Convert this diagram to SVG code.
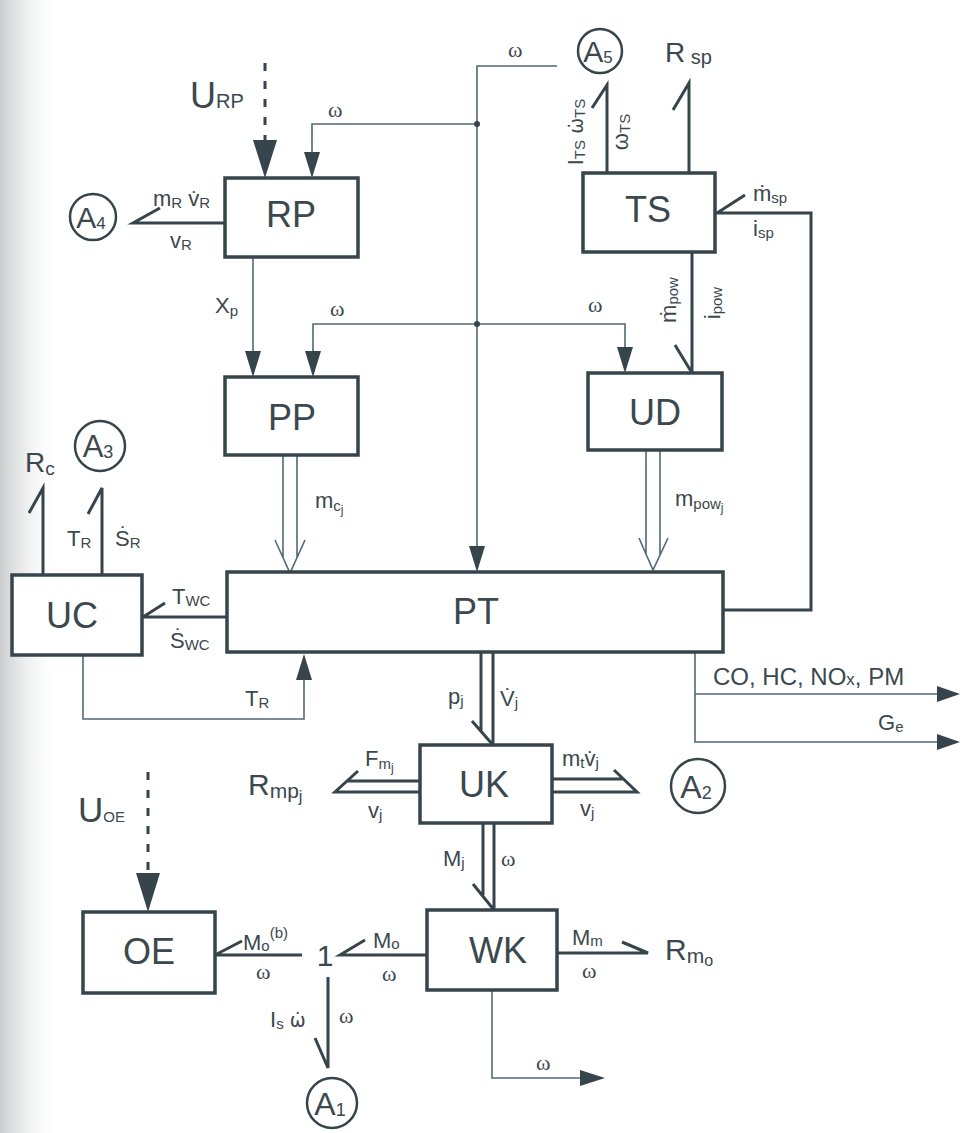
<svg xmlns="http://www.w3.org/2000/svg" width="961" height="1133" viewBox="0 0 961 1133">
<defs>
<linearGradient id="scan" x1="0" y1="0" x2="1" y2="0">
<stop offset="0" stop-color="#c9cccd"/>
<stop offset="1" stop-color="#ffffff" stop-opacity="0"/>
</linearGradient>
<style>
.box{fill:#fff;stroke:#36444b;stroke-width:3.5}
.thick{fill:none;stroke:#36444b;stroke-width:3}
.thin{fill:none;stroke:#4e6a77;stroke-width:1.6}
.dash{fill:none;stroke:#36444b;stroke-width:3;stroke-dasharray:8 10}
.ah{fill:#36444b}
.circ{fill:#fff;stroke:#36444b;stroke-width:2.5}
text{font-family:"Liberation Sans",Arial,sans-serif;fill:#3b484e}
.nl{font-size:36px}
.lb{font-size:22px}
.sb{font-size:15px}
.w{font-size:22px;font-family:"Liberation Serif",serif}
.wd{font-family:"DejaVu Sans",sans-serif;font-size:19px}
</style>
</defs>
<rect width="961" height="1133" fill="#fff"/>
<rect width="60" height="1133" fill="url(#scan)"/>

<g id="connectors">
<path class="dash" d="M265,63 V140"/>
<polygon class="ah" points="253,140 277,140 265,178"/>
<path class="thin" d="M557,66 H477 V560"/>
<polygon class="ah" points="469,546 485,546 477,572"/>
<path class="thin" d="M477,124 H312 V165"/>
<polygon class="ah" points="304,152 320,152 312,178"/>
<path class="thin" d="M313,365 V324 H625 V360"/>
<polygon class="ah" points="305,351 321,351 313,377"/>
<polygon class="ah" points="617,347 633,347 625,373"/>
<circle cx="477" cy="124" r="3" class="ah"/>
<circle cx="477" cy="324" r="3" class="ah"/>
<path class="thin" d="M253,257 V365"/>
<polygon class="ah" points="245,351 261,351 253,377"/>
<path class="thick" d="M225,223 H133 L160,208"/>
<path class="thick" d="M607,173 V85 L592,108"/>
<path class="thick" d="M689,173 V83 L673,110"/>
<path class="thick" d="M723,610 H811 V213 H717 L745,195"/>
<path class="thick" d="M692,252 V373 L675,345"/>
<path class="thin" d="M283,455 V558 M297,455 V558 M275,540 L290,573 L305,540"/>
<path class="thin" d="M646,450 V554 M660,450 V555 M639,538 L653,570 L668,538"/>
<path class="thick" d="M481,652 V732 M493,652 V745 L472,721"/>
<path class="thick" d="M483,823 V895 M494,823 V910 L473,884"/>
<path class="thick" d="M420,781 H347 M420,792 H335 L358,771"/>
<path class="thick" d="M552,779 H623 M552,792 H637 L614,770"/>
<path class="thick" d="M228,617 H143 L165,603"/>
<path class="thick" d="M43,575 V488 L29,513"/>
<path class="thick" d="M102,575 V488 L88,514"/>
<path class="thin" d="M83,655 V719 H304 V665"/>
<polygon class="ah" points="296,680 312,680 304,654"/>
<path class="thin" d="M695,652 V742 H940 M695,694 H940"/>
<polygon class="ah" points="937,686 960,694 937,702"/>
<polygon class="ah" points="937,734 960,742 937,750"/>
<path class="thick" d="M557,953 H648 L622,942"/>
<path class="thick" d="M427,955 H340 L365,940"/>
<path class="thick" d="M302,955 H215 L242,941"/>
<path class="thick" d="M328,977 V1068 L315,1038"/>
<path class="thin" d="M492,990 V1078 H585"/>
<polygon class="ah" points="580,1070 605,1078 580,1086"/>
<path class="dash" d="M148,772 V873"/>
<polygon class="ah" points="136,873 160,873 148,912"/>
</g>

<g id="RP"><rect class="box" x="225" y="178" width="133" height="79"/><text class="nl" x="291" y="227" text-anchor="middle">RP</text></g>
<g id="TS"><rect class="box" x="583" y="173" width="132" height="79"/><text class="nl" x="648" y="222" text-anchor="middle">TS</text></g>
<g id="PP"><rect class="box" x="225" y="377" width="133" height="78"/><text class="nl" x="292" y="430" text-anchor="middle">PP</text></g>
<g id="UD"><rect class="box" x="588" y="373" width="134" height="77"/><text class="nl" x="655" y="425" text-anchor="middle">UD</text></g>
<g id="UC"><rect class="box" x="12" y="575" width="130" height="80"/><text class="nl" x="72" y="628" text-anchor="middle">UC</text></g>
<g id="PT"><rect class="box" x="227" y="572" width="496" height="80"/><text class="nl" x="476" y="624" text-anchor="middle">PT</text></g>
<g id="UK"><rect class="box" x="420" y="745" width="132" height="78"/><text class="nl" x="484" y="797" text-anchor="middle">UK</text></g>
<g id="WK"><rect class="box" x="427" y="910" width="130" height="80"/><text class="nl" x="498" y="963" text-anchor="middle">WK</text></g>
<g id="OE"><rect class="box" x="83" y="912" width="132" height="81"/><text class="nl" x="149" y="964" text-anchor="middle">OE</text></g>

<g id="A5"><circle class="circ" cx="600" cy="51" r="22"/><text x="598" y="62" font-size="30" text-anchor="middle">A<tspan font-size="17" dy="1">5</tspan></text></g>
<g id="A4"><circle class="circ" cx="93" cy="217" r="23"/><text x="91" y="228" font-size="30" text-anchor="middle">A<tspan font-size="17" dy="1">4</tspan></text></g>
<g id="A3"><circle class="circ" cx="100" cy="446" r="25"/><text x="98" y="457" font-size="31" text-anchor="middle">A<tspan font-size="18" dy="1">3</tspan></text></g>
<g id="A2"><circle class="circ" cx="698" cy="786" r="27"/><text x="696" y="798" font-size="32" text-anchor="middle">A<tspan font-size="18" dy="1">2</tspan></text></g>
<g id="A1"><circle class="circ" cx="332" cy="1103" r="25"/><text x="330" y="1115" font-size="32" text-anchor="middle">A<tspan font-size="18" dy="1">1</tspan></text></g>

<g id="labels">
<text x="190" y="108" font-size="36">U<tspan font-size="20">RP</tspan></text>
<text class="w" x="328" y="117">ω</text>
<text class="w" x="508" y="57">ω</text>
<text class="lb" x="153" y="206">m<tspan class="sb" dy="2">R</tspan><tspan dy="-2"> v̇</tspan><tspan class="sb" dy="2">R</tspan></text>
<text class="lb" x="170" y="248">v<tspan class="sb" dy="2">R</tspan></text>
<text x="665" y="62" font-size="28">R<tspan font-size="20" dy="2"> sp</tspan></text>
<text class="lb" transform="translate(583,132) rotate(-90)" text-anchor="middle">I<tspan class="sb" dy="2">TS</tspan><tspan dy="-2"> </tspan><tspan class="wd">ω̇</tspan><tspan class="sb" dy="2">TS</tspan></text>
<text class="lb" transform="translate(628,132) rotate(-90)" text-anchor="middle">ω<tspan class="sb" dy="2">TS</tspan></text>
<text class="lb" x="753" y="201">ṁ<tspan class="sb" dy="2">sp</tspan></text>
<text class="lb" x="753" y="236">i<tspan class="sb" dy="2">sp</tspan></text>
<text class="lb" x="215" y="313">X<tspan class="sb" dy="3">p</tspan></text>
<text class="w" x="330" y="316">ω</text>
<text class="w" x="588" y="312">ω</text>
<text class="lb" transform="translate(676,300) rotate(-90)" text-anchor="middle">ṁ<tspan class="sb" dy="2">pow</tspan></text>
<text class="lb" transform="translate(720,303) rotate(-90)" text-anchor="middle">i<tspan class="sb" dy="2">pow</tspan></text>
<text class="lb" x="315" y="508">m<tspan class="sb" dy="3">c</tspan><tspan font-size="12" dy="3">j</tspan></text>
<text class="lb" x="675" y="506">m<tspan class="sb" dy="3">pow</tspan><tspan font-size="12" dy="3">j</tspan></text>
<text x="25" y="472" font-size="28">R<tspan font-size="19" dy="3">c</tspan></text>
<text class="lb" x="67" y="546">T<tspan class="sb" dy="2">R</tspan></text>
<text class="lb" x="115" y="546">Ṡ<tspan class="sb" dy="2">R</tspan></text>
<text class="lb" x="172" y="604">T<tspan class="sb" dy="2">WC</tspan></text>
<text class="lb" x="170" y="648">Ṡ<tspan class="sb" dy="2">WC</tspan></text>
<text class="lb" x="245" y="706">T<tspan class="sb" dy="2">R</tspan></text>
<text x="713" y="685" font-size="24">CO, HC, NO<tspan font-size="17">x</tspan>, PM</text>
<text class="lb" x="878" y="730">G<tspan class="sb" dy="2">e</tspan></text>
<text class="lb" x="448" y="704">p<tspan class="sb" dy="2">j</tspan></text>
<text class="lb" x="500" y="706">V̇<tspan class="sb" dy="2">j</tspan></text>
<text class="lb" x="365" y="766">F<tspan class="sb" dy="3">m</tspan><tspan font-size="12" dy="3">j</tspan></text>
<text class="lb" x="368" y="818">v<tspan class="sb" dy="2">j</tspan></text>
<text x="248" y="795" font-size="30">R<tspan font-size="21" dy="3">mp</tspan><tspan font-size="16" dy="4">j</tspan></text>
<text class="lb" x="562" y="766">m<tspan class="sb" dy="2">t</tspan><tspan dy="-2">v̇</tspan><tspan class="sb" dy="2">j</tspan></text>
<text class="lb" x="580" y="816">v<tspan class="sb" dy="2">j</tspan></text>
<text class="lb" x="443" y="866">M<tspan class="sb" dy="2">j</tspan></text>
<text class="w" x="501" y="866">ω</text>
<text class="lb" x="572" y="945">M<tspan class="sb" dy="1">m</tspan></text>
<text class="w" x="582" y="978">ω</text>
<text x="665" y="960" font-size="30">R<tspan font-size="21" dy="3">m</tspan><tspan font-size="16" dy="3">o</tspan></text>
<text class="lb" x="373" y="948">M<tspan class="sb" dy="1">o</tspan></text>
<text class="w" x="382" y="981">ω</text>
<text x="325" y="966" font-size="30" font-family="Liberation Serif,serif" text-anchor="middle">1</text>
<text class="lb" x="243" y="950">M<tspan class="sb" dy="1">o</tspan><tspan class="sb" dy="-13">(b)</tspan></text>
<text class="w" x="256" y="979">ω</text>
<text class="lb" x="270" y="1027">I<tspan class="sb" dy="2">s</tspan><tspan dy="-2"> </tspan><tspan class="wd">ω̇</tspan></text>
<text class="w" x="339" y="1023">ω</text>
<text class="w" x="536" y="1070">ω</text>
<text x="78" y="822" font-size="35">U<tspan font-size="15">OE</tspan></text>
</g>
</svg>
